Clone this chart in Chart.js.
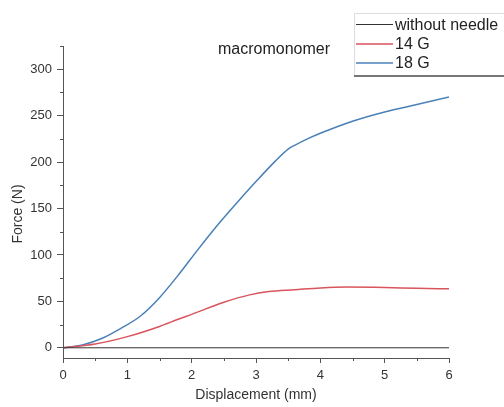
<!DOCTYPE html>
<html>
<head>
<meta charset="utf-8">
<script src="https://cdn.jsdelivr.net/npm/chart.js@4/dist/chart.umd.min.js"></script>
<style>
    html, body { margin: 0; padding: 0; background: #fff; }
</style>
</head>
<body>
<canvas id="forceChart" width="504" height="407"></canvas>
<script>
// series names (legend order)
const seriesNames = ['without needle', '14 G', '18 G'];
const seriesColors = ['#333333', '#d9545c', '#4a80b8'];

// without needle: flat at zero
const baseX = [0, 6];
const baseY = [0, 0];

// 14 G
const redX = [0, 0.5, 1.0, 1.5, 1.8, 2.0, 2.5, 2.9, 3.2, 3.6, 4.0, 4.4, 5.0, 5.5, 6.0];
const redY = [0, 4, 12, 23, 31, 36, 49, 57, 60.5, 62.5, 64.5, 65.5, 65, 64, 63.5];

// 18 G
const blueX = [0, 0.3, 0.6, 0.9, 1.2, 1.5, 1.8, 2.1, 2.4, 2.7, 3.0, 3.3, 3.5, 3.6, 3.8, 4.0, 4.5, 5.0, 5.5, 6.0];
const blueY = [0, 3, 10, 21, 34, 54, 79, 106, 132, 156, 179, 201, 214, 218, 225, 231, 244, 254, 262, 270];

// ticks
const xTicks = [0, 1, 2, 3, 4, 5, 6];
const yTicks = [0, 50, 100, 150, 200, 250, 300];
const xMinor = [0.5, 1.5, 2.5, 3.5, 4.5, 5.5];
const yMinor = [25, 75, 125, 175, 225, 275, 325];

const toPoints = (xs, ys) => xs.map((x, i) => ({ x: x, y: ys[i] }));

const axisColor = '#555555';
const textColor = '#333333';
const fontFamily = '"Liberation Sans", Arial, sans-serif';

// minor ticks, axis titles, annotation and the legend box
const extrasPlugin = {
    id: 'extras',
    afterDraw(chart) {
        const ctx = chart.ctx;
        const xs = chart.scales.x;
        const ys = chart.scales.y;
        const area = chart.chartArea;

        ctx.save();
        ctx.strokeStyle = axisColor;
        ctx.lineWidth = 1;
        ctx.beginPath();
        xMinor.forEach(v => {
            const px = Math.round(xs.getPixelForValue(v)) + 0.5;
            ctx.moveTo(px, area.bottom);
            ctx.lineTo(px, area.bottom + 3);
        });
        yMinor.forEach(v => {
            const py = Math.round(ys.getPixelForValue(v)) + 0.5;
            if (py < area.top) return;
            ctx.moveTo(area.left, py);
            ctx.lineTo(area.left - 3, py);
        });
        ctx.stroke();

        // axis titles
        ctx.fillStyle = textColor;
        ctx.font = '14px ' + fontFamily;
        ctx.textAlign = 'center';
        ctx.textBaseline = 'middle';
        ctx.fillText('Displacement (mm)', 256, 395);
        ctx.save();
        ctx.translate(18, 214);
        ctx.rotate(-Math.PI / 2);
        ctx.fillText('Force (N)', 0, 0);
        ctx.restore();

        // annotation
        ctx.font = '16px ' + fontFamily;
        ctx.textAlign = 'left';
        ctx.fillStyle = '#222';
        ctx.fillText('macromonomer', 218, 50);

        // legend box (top light edge, dark bottom edge)
        ctx.strokeStyle = '#dddddd';
        ctx.beginPath();
        ctx.moveTo(354, 13.5);
        ctx.lineTo(504, 13.5);
        ctx.moveTo(354.5, 13);
        ctx.lineTo(354.5, 76);
        ctx.stroke();
        ctx.strokeStyle = '#777';
        ctx.lineWidth = 2;
        ctx.beginPath();
        ctx.moveTo(354, 76);
        ctx.lineTo(504, 76);
        ctx.stroke();

        const rowY = [24.5, 44, 63];
        seriesNames.forEach((name, i) => {
            ctx.strokeStyle = seriesColors[i];
            ctx.lineWidth = i === 0 ? 1 : 1.5;
            ctx.beginPath();
            ctx.moveTo(356, rowY[i]);
            ctx.lineTo(393, rowY[i]);
            ctx.stroke();
            ctx.fillStyle = '#222';
            ctx.fillText(name, 395, rowY[i] + 1);
        });
        ctx.restore();
    }
};

new Chart(document.getElementById('forceChart'), {
    type: 'line',
    data: {
        datasets: [
            { label: seriesNames[0], data: toPoints(baseX, baseY), borderColor: seriesColors[0], borderWidth: 1 },
            { label: seriesNames[1], data: toPoints(redX, redY), borderColor: seriesColors[1], borderWidth: 1.5, cubicInterpolationMode: 'monotone' },
            { label: seriesNames[2], data: toPoints(blueX, blueY), borderColor: seriesColors[2], borderWidth: 1.5, cubicInterpolationMode: 'monotone' }
        ]
    },
    options: {
        responsive: false,
        animation: false,
        devicePixelRatio: 1,
        layout: { padding: { left: 0, top: 46, right: 55, bottom: 0 } },
        elements: { point: { radius: 0 } },
        plugins: {
            legend: { display: false },
            tooltip: { enabled: false }
        },
        scales: {
            x: {
                type: 'linear',
                min: 0,
                max: 6,
                afterFit: s => { s.height = 49; },
                afterBuildTicks: s => { s.ticks = xTicks.map(v => ({ value: v })); },
                border: { display: true, color: axisColor, width: 1 },
                grid: { display: true, drawOnChartArea: false, drawTicks: true, tickLength: 5, color: axisColor },
                ticks: { color: textColor, padding: 5, font: { size: 13, family: fontFamily }, maxRotation: 0 }
            },
            y: {
                type: 'linear',
                min: -11,
                max: 325,
                afterFit: s => { s.width = 63; },
                afterBuildTicks: s => { s.ticks = yTicks.map(v => ({ value: v })); },
                border: { display: true, color: axisColor, width: 1 },
                grid: { display: true, drawOnChartArea: false, drawTicks: true, tickLength: 6, color: axisColor },
                ticks: { color: textColor, padding: 5, font: { size: 13, family: fontFamily } }
            }
        }
    },
    plugins: [extrasPlugin]
});
</script>
</body>
</html>
